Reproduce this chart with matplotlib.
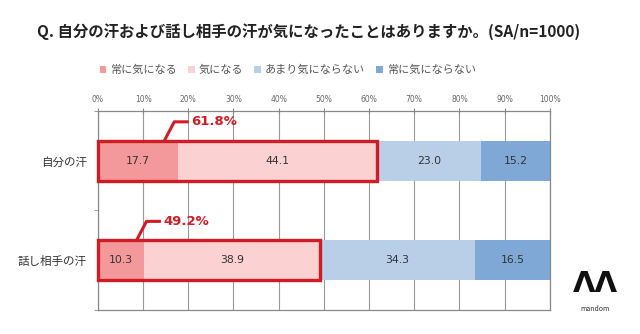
import numpy as np
import matplotlib
matplotlib.use("Agg")
import matplotlib.pyplot as plt
from matplotlib.patches import Rectangle

plt.rcParams['font.family'] = ['Noto Sans CJK JP', 'DejaVu Sans']

# data
categories = ['自分の汗', '話し相手の汗']
series_names = ['常に気になる', '気になる', 'あまり気にならない', '常に気にならない']
values = [
    [17.7, 10.3],   # 常に気になる
    [44.1, 38.9],   # 気になる
    [23.0, 34.3],   # あまり気にならない
    [15.2, 16.5],   # 常に気にならない
]
totals = ['61.8%', '49.2%']
tick_vals = [0, 10, 20, 30, 40, 50, 60, 70, 80, 90, 100]
colors = ['#f4999b', '#fcd1d1', '#b9cfe8', '#7fa8d6']
red = '#d01c24'

fig = plt.figure(figsize=(6.4, 3.34), dpi=100)
ax = fig.add_axes([0.153, 0.072, 0.706, 0.596])

y = np.arange(len(categories))
left = np.zeros(len(categories))
for name, vals, c in zip(series_names, values, colors):
    vals = np.array(vals)
    ax.barh(y, vals, left=left, height=0.4, color=c, label=name, zorder=2)
    for yi, l, v in zip(y, left, vals):
        ax.text(l + v / 2, yi, f'{v:.1f}', ha='center', va='center',
                fontsize=7.8, color='#333333', zorder=4, family='DejaVu Sans')
    left = left + vals

# red boxes around the "気になる" total
for yi, s1, s2, lab in zip(y, values[0], values[1], totals):
    tot = s1 + s2
    ax.add_patch(Rectangle((0, yi - 0.2), tot, 0.4, fill=False,
                           edgecolor=red, lw=2.4, zorder=5, clip_on=False))
    x0 = s1 * 0.83
    ax.plot([x0, x0 + 2.2, x0 + 5.4], [yi - 0.2, yi - 0.39, yi - 0.39],
            color=red, lw=2.2, zorder=5, solid_capstyle='butt', clip_on=False)
    ax.text(x0 + 6.0, yi - 0.39, lab, color=red, fontsize=9.5,
            fontweight='bold', ha='left', va='center', family='DejaVu Sans')

ax.set_xlim(0, 100)
ax.set_ylim(1.5, -0.5)
ax.set_xticks(tick_vals)
ax.set_xticklabels([f'{t}%' for t in tick_vals], fontsize=5.5, color='#666666',
                   family='DejaVu Sans')
ax.xaxis.tick_top()
ax.tick_params(axis='x', length=4, direction='inout', color='#888888', pad=3)
ax.set_yticks(y)
ax.set_yticklabels(categories, fontsize=8.3, color='#333333')
ax.set_yticks([-0.5, 0.5, 1.5], minor=True)
ax.tick_params(axis='y', which='major', length=0, pad=8)
ax.tick_params(axis='y', which='minor', length=3, color='#888888')
ax.grid(axis='x', color='#999999', lw=0.8, zorder=0)
for s in ax.spines.values():
    s.set_color('#888888')
    s.set_linewidth(0.9)

ax.legend(loc='lower center', bbox_to_anchor=(0.42, 1.13), ncol=4, frameon=False,
          fontsize=8, handlelength=0.6, handleheight=0.6, handletextpad=0.35,
          columnspacing=1.0, labelcolor='#555555')

fig.text(0.058, 0.905, 'Q. 自分の汗および話し相手の汗が気になったことはありますか。(SA/n=1000)',
         fontsize=11.1, fontweight='bold', color='#222222', ha='left', va='center')

# logo
fig.text(0.93, 0.15, 'ΛΛ', fontsize=21, fontweight='bold', color='#111111',
         ha='center', va='center', family='DejaVu Sans')
fig.text(0.93, 0.075, 'mandom', fontsize=5, color='#333333', ha='center', va='center')

fig.savefig('out.png', dpi=100)
